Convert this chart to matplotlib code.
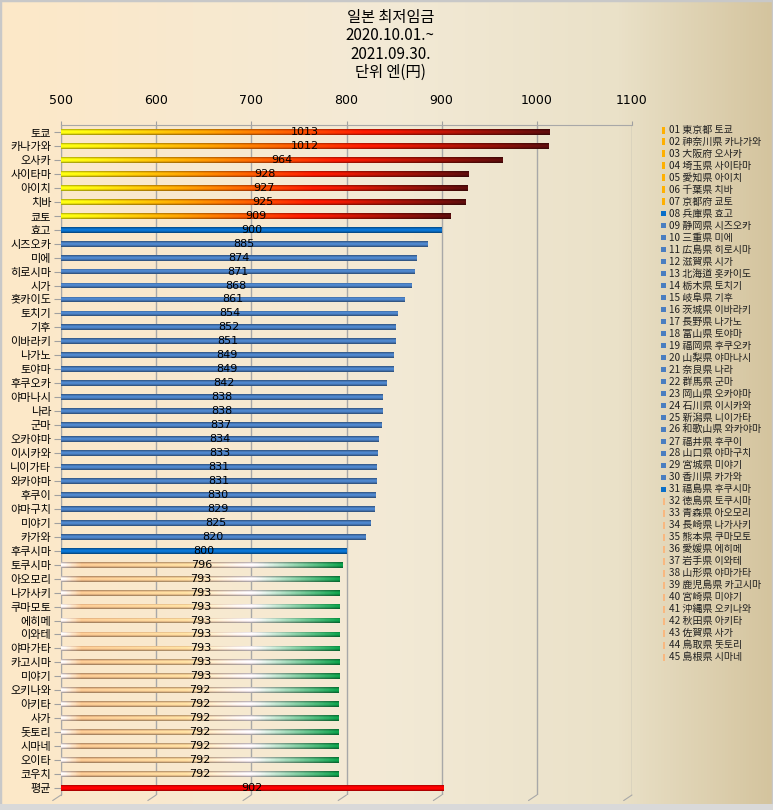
import numpy as np
import matplotlib
matplotlib.use("Agg")
import matplotlib.pyplot as plt
from matplotlib.colors import LinearSegmentedColormap
from matplotlib.patches import Rectangle

plt.rcParams['font.family'] = ['Noto Sans CJK KR', 'DejaVu Sans']

# ---------------- data ----------------
title = "일본 최저임금\n2020.10.01.~\n2021.09.30.\n단위 엔(円)"
labels = ["토쿄", "카나가와", "오사카", "사이타마", "아이치", "치바", "쿄토", "효고",
          "시즈오카", "미에", "히로시마", "시가", "홋카이도", "토치기", "기후", "이바라키",
          "나가노", "토야마", "후쿠오카", "야마나시", "나라", "군마", "오카야마", "이시카와",
          "니이가타", "와카야마", "후쿠이", "야마구치", "미야기", "카가와", "후쿠시마",
          "토쿠시마", "아오모리", "나가사키", "쿠마모토", "에히메", "이와테", "야마가타",
          "카고시마", "미야기", "오키나와", "아키타", "사가", "돗토리", "시마네", "오이타",
          "코우치", "평균"]
values = [1013, 1012, 964, 928, 927, 925, 909, 900,
          885, 874, 871, 868, 861, 854, 852, 851,
          849, 849, 842, 838, 838, 837, 834, 833,
          831, 831, 830, 829, 825, 820, 800,
          796, 793, 793, 793, 793, 793, 793,
          793, 793, 792, 792, 792, 792, 792, 792,
          792, 902]
# colour group per row
groups = (["hot"] * 7 + ["blue"] + ["steel"] * 22 + ["blue"] + ["green"] * 16 + ["avg"])
legend_labels = ["01 東京都 토쿄", "02 神奈川県 카나가와", "03 大阪府 오사카", "04 埼玉県 사이타마",
                 "05 愛知県 아이치", "06 千葉県 치바", "07 京都府 쿄토", "08 兵庫県 효고",
                 "09 静岡県 시즈오카", "10 三重県 미에", "11 広島県 히로시마", "12 滋賀県 시가",
                 "13 北海道 홋카이도", "14 栃木県 토치기", "15 岐阜県 기후", "16 茨城県 이바라키",
                 "17 長野県 나가노", "18 富山県 토야마", "19 福岡県 후쿠오카", "20 山梨県 야마나시",
                 "21 奈良県 나라", "22 群馬県 군마", "23 岡山県 오카야마", "24 石川県 이시카와",
                 "25 新潟県 니이가타", "26 和歌山県 와카야마", "27 福井県 후쿠이", "28 山口県 야마구치",
                 "29 宮城県 미야기", "30 香川県 카가와", "31 福島県 후쿠시마", "32 徳島県 토쿠시마",
                 "33 青森県 아오모리", "34 長崎県 나가사키", "35 熊本県 쿠마모토", "36 愛媛県 에히메",
                 "37 岩手県 이와테", "38 山形県 야마가타", "39 鹿児島県 카고시마", "40 宮崎県 미야기",
                 "41 沖縄県 오키나와", "42 秋田県 아키타", "43 佐賀県 사가", "44 鳥取県 돗토리",
                 "45 島根県 시마네"]
xticks = [500, 600, 700, 800, 900, 1000, 1100]
base = 500

# ---------------- colours ----------------
cmaps = {
    "hot": LinearSegmentedColormap.from_list("hot", [(0.0, "#FFFF10"), (0.3, "#FF9C00"),
                                                    (0.62, "#FF1A00"), (1.0, "#5A0C0C")]),
    "blue": LinearSegmentedColormap.from_list("blue", ["#0A6FC8", "#0A6FC8"]),
    "steel": LinearSegmentedColormap.from_list("steel", ["#4A7EC0", "#4A7EC0"]),
    "green": LinearSegmentedColormap.from_list("green", [(0.0, "#FFF4F4"), (0.07, "#F6C08C"),
                                                        (0.45, "#FFD49A"), (0.68, "#FFF4FA"),
                                                        (1.0, "#0C9A48")]),
    "avg": LinearSegmentedColormap.from_list("avg", ["#FF0000", "#FF0000"]),
}
legend_colors = {"hot": "#FFB000", "blue": "#0A6FC8", "steel": "#4A7EC0", "green": "#F8B880"}

W, H = 773, 810
fig = plt.figure(figsize=(W / 100, H / 100), dpi=100)

# background gradient
bg = fig.add_axes([0, 0, 1, 1], zorder=-10)
bgc = LinearSegmentedColormap.from_list("bg", [(0.0, "#FDE8C8"), (0.5, "#F3EAD6"),
                                               (0.8, "#EAE1C8"), (1.0, "#D4C49E")])
bg.imshow(np.linspace(0, 1, 256)[None, :], aspect="auto", cmap=bgc, extent=[0, 1, 0, 1])
bg.set_xlim(0, 1); bg.set_ylim(0, 1)
bg.axis("off")
bg.add_patch(Rectangle((0, 0), 1, 1, transform=bg.transAxes, fill=False,
                       edgecolor="#C8C8C8", linewidth=2.5))
bg.add_patch(Rectangle((0, 0), 1, 6 / H, transform=bg.transAxes, facecolor="#D9D9D9",
                       edgecolor="none"))

ax_l, ax_r = 61 / W, 632 / W
ax_t, ax_b = 1 - 125 / H, 1 - 795 / H
ax = fig.add_axes([ax_l, ax_b, ax_r - ax_l, ax_t - ax_b])
ax.set_facecolor("none")

n = len(values)
ypos = np.arange(n)
bar_h = 0.42

# tube shading (vertical)
shade = np.array([0.72, 0.9, 1.05, 1.12, 1.0, 0.85, 0.65])

for i, (v, g) in enumerate(zip(values, groups)):
    bars = ax.barh(ypos[i], v - base, left=base, height=bar_h, color="none",
                   edgecolor="none", zorder=3)
    patch = bars.patches[0]
    grad = cmaps[g](np.linspace(0, 1, 200))[:, :3]
    img = np.clip(grad[None, :, :] * shade[:, None, None], 0, 1)
    im = ax.imshow(img, extent=[base, v, ypos[i] + bar_h / 2, ypos[i] - bar_h / 2],
                   aspect="auto", zorder=3, interpolation="bilinear")
    im.set_clip_path(patch)
    ax.text((base + v) / 2, ypos[i], f"{v}", ha="center", va="center",
            fontsize=8, color="black", zorder=5, family=["DejaVu Sans"])

ax.set_xlim(xticks[0], xticks[-1])
ax.set_ylim(n - 0.5, -0.5)
ax.set_xticks(xticks)
ax.xaxis.tick_top()
ax.tick_params(axis="x", length=3, color="#A0A0A0", labelsize=9, pad=10)
for lab in ax.get_xticklabels():
    lab.set_family(["DejaVu Sans"])
ax.set_yticks(ypos)
ax.set_yticklabels(labels, fontsize=8)
ax.tick_params(axis="y", length=5, color="#A0A0A0", width=0.8, pad=2)
ax.grid(axis="x", color="#A8A8A8", linewidth=1.0, zorder=1)
for s in ["right", "bottom"]:
    ax.spines[s].set_visible(False)
ax.spines["top"].set_color("#A8A8A8")
ax.spines["left"].set_color("#A8A8A8")

# 3D floor hints at bottom of grid lines
for xv in xticks:
    ax.annotate("", xy=(xv, n - 0.5), xycoords="data",
                xytext=(-6, -4), textcoords="offset points",
                arrowprops=dict(arrowstyle="-", color="#A8A8A8", lw=0.8,
                                shrinkA=0, shrinkB=0))

# title
fig.text(0.505, 1 - 9 / H, title, ha="center", va="top", fontsize=11,
         linespacing=1.1)

# legend
leg_x = 663 / W
top_y = 130
step = (657 - 130) / 44
for k, txt in enumerate(legend_labels):
    yc = 1 - (top_y + k * step) / H
    g = groups[k]
    if g in ("blue", "steel"):
        fig.patches.append(Rectangle((leg_x - 2 / W, yc - 2.5 / H), 5 / W, 5 / H,
                                     transform=fig.transFigure, facecolor=legend_colors[g],
                                     edgecolor="none"))
    elif g == "hot":
        fig.patches.append(Rectangle((leg_x - 1 / W, yc - 3.5 / H), 3 / W, 7 / H,
                                     transform=fig.transFigure, facecolor="#FFB000",
                                     edgecolor="none"))
    else:
        fig.patches.append(Rectangle((leg_x, yc - 3.5 / H), 2 / W, 7 / H,
                                     transform=fig.transFigure, facecolor=legend_colors[g],
                                     edgecolor="none"))
    fig.text(leg_x + 6 / W, yc, txt, ha="left", va="center", fontsize=7.2, color="#202020")

fig.savefig("out.png", dpi=100)
